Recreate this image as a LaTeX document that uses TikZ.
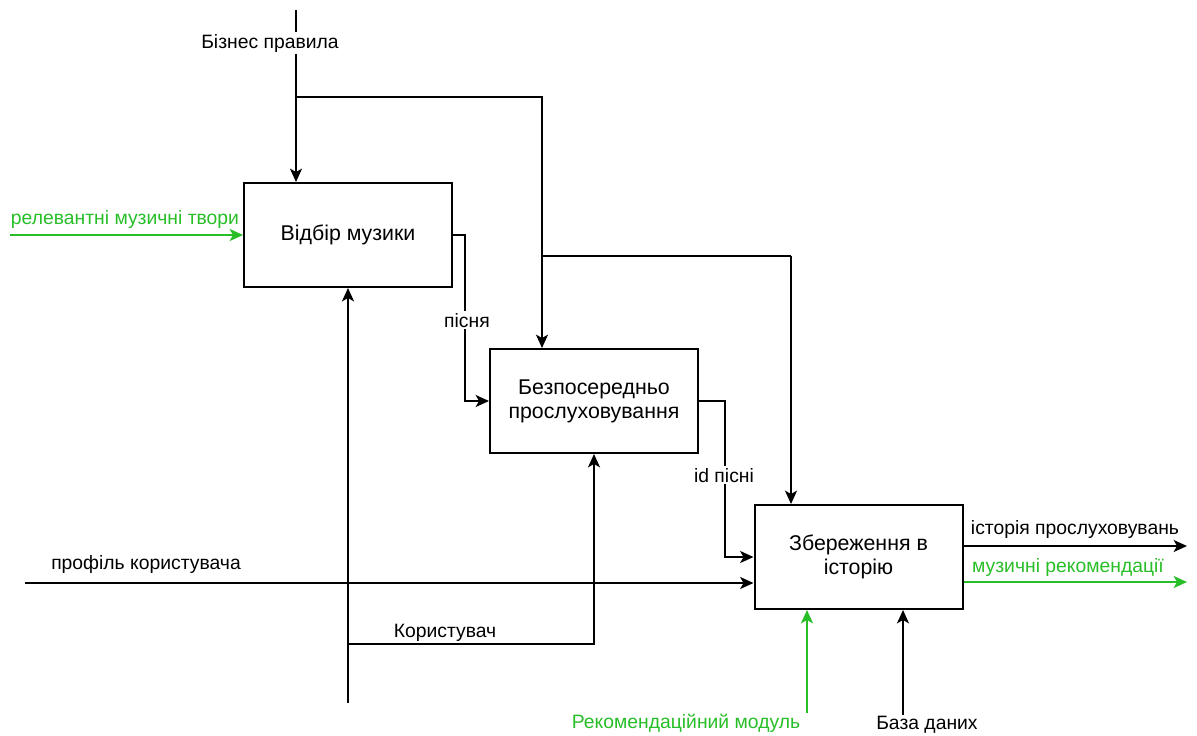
\documentclass[tikz,border=0pt]{standalone}
\usepackage{fontspec}
\setmainfont{Liberation Sans}
\usetikzlibrary{arrows.meta}
\definecolor{flowgreen}{RGB}{40,190,40}
\begin{document}
\begin{tikzpicture}[x=0.75pt,y=-0.75pt,
  func/.style={draw, line width=1.5pt, minimum width=156pt, minimum height=78pt,
    align=center, font=\fontsize{16}{18}\selectfont},
  lbl/.style={inner sep=1.5pt, font=\fontsize{14.5}{16}\selectfont},
  cut/.style={lbl, fill=white},
  arr/.style={line width=1.5pt, -{Stealth[length=10pt,width=9pt,inset=2.5pt]}},
  conn/.style={line width=1.5pt},
  garr/.style={arr, draw=flowgreen, -{Stealth[length=10pt,width=9pt,inset=2.5pt,fill=flowgreen]}}]
\useasboundingbox (0,0) rectangle (1197,736);

% activity boxes
\node[func] (A) at (348,235) {Відбір музики};
\node[func] (B) at (594,401) {Безпосередньо\\прослуховування};
\node[func] (C) at (858.5,557) {Збереження в\\історію};

% free ends and branch points
\coordinate (rules) at (296,10);
\coordinate (j1) at (296,97);
\coordinate (j2) at (542,256);
\coordinate (j3) at (791,256);
\coordinate (rin) at (10,235);
\coordinate (pin) at (25,583);
\coordinate (uin) at (348,703);
\coordinate (uj) at (348,644);
\coordinate (rm) at (807,713);
\coordinate (db) at (903,715);
\coordinate (hout) at (1187,546);
\coordinate (gout) at (1187,582);

% control: business rules
\draw[arr] (rules) -- (rules |- A.north);
\draw[conn] (j1) -| (j2);
\draw[arr] (j2) -- (j2 |- B.north);
\draw[conn] (j2) -- (j3);
\draw[arr] (j3) -- (j3 |- C.north);

% inputs
\draw[garr] (rin) -- (A.west);
\draw[arr] (A.east) -- ++(12,0) |- (B.west);
\draw[arr] (B.east) -- ++(26,0) |- (C.west);
\draw[arr] (pin) -- (pin -| C.west);

% mechanism: user
\draw[arr] (uin) -- (A.south);
\draw[arr] (uj) -| (B.south);

% mechanisms of storage
\draw[garr] (rm) -- (rm |- C.south);
\draw[arr] (db) -- (db |- C.south);

% outputs
\draw[arr] (hout -| C.east) -- (hout);
\draw[garr] (gout -| C.east) -- (gout);

% labels
\node[cut, anchor=base] (lrules) at (270,48) {Бізнес правила};
\node[lbl, anchor=base, text=flowgreen] (lrin) at (125,224) {релевантні музичні твори};
\node[cut, anchor=base] (lsong) at (467,327) {пісня};
\node[cut, anchor=base] (lid) at (724,482) {id пісні};
\node[lbl, anchor=base] (lprof) at (146,569) {профіль користувача};
\node[lbl, anchor=base] (luser) at (445,637) {Користувач};
\node[lbl, anchor=base] (lhist) at (1075,534) {історія прослуховувань};
\node[lbl, anchor=base, text=flowgreen] (lrec) at (1068,572) {музичні рекомендації};
\node[lbl, anchor=base, text=flowgreen] (lrm) at (686,728) {Рекомендаційний модуль};
\node[lbl, anchor=base] (ldb) at (927,729) {База даних};
\end{tikzpicture}
\end{document}
